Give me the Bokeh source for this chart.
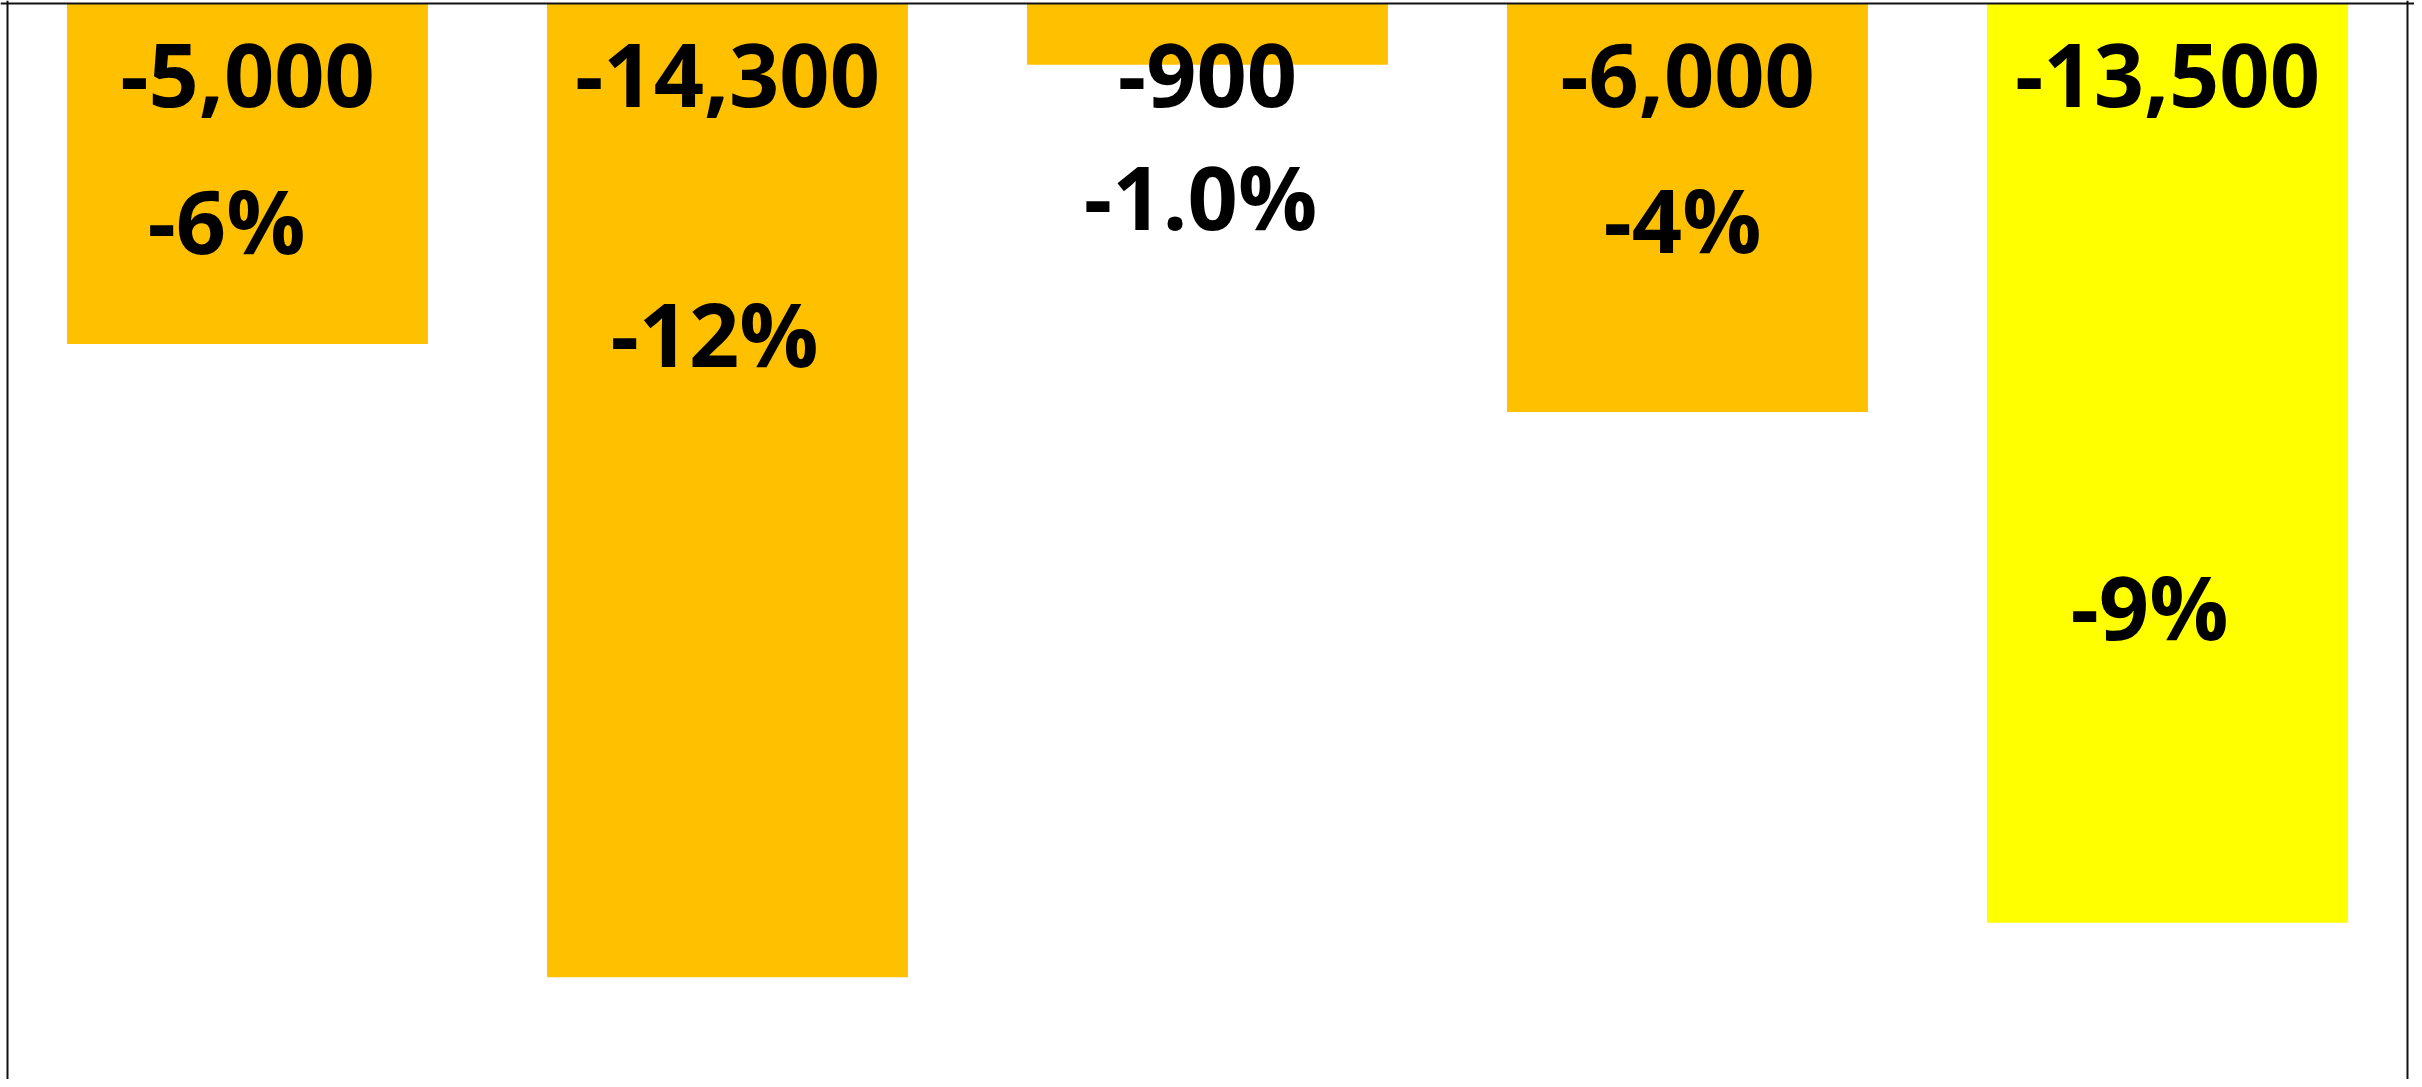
from bokeh.plotting import figure
from bokeh.models import ColumnDataSource, FactorRange, Range1d, Span
from bokeh.core.properties import value
from bokeh.embed import file_html
from bokeh.resources import INLINE

# ---- data ----
categories = ["1", "2", "3", "4", "5"]
values = [-5000, -14300, -900, -6000, -13500]
value_labels = ["-5,000", "-14,300", "-900", "-6,000", "-13,500"]
pct_labels = ["-6%", "-12%", "-1.0%", "-4%", "-9%"]
bar_colors = ["#FFC000", "#FFC000", "#FFC000", "#FFC000", "#FFFF00"]

# label placement (data units on the y axis / pixel nudges)
value_label_y = [-1542] * 5
pct_label_y = [-3670, -5316, -3304, -3656, -9325]
pct_label_dx = [-21, -13, -7, -5, -18]

src = ColumnDataSource(dict(
    cat=categories, val=values, color=bar_colors,
    vlab=value_labels, vy=value_label_y,
    plab=pct_labels, py=pct_label_y, pdx=pct_label_dx,
))

p = figure(
    x_range=FactorRange(*categories, range_padding=0.0146, range_padding_units="absolute"),
    y_range=Range1d(-15800, 44),
    width=2414, height=1079,
    output_backend="svg", toolbar_location=None,
    min_border_left=0, min_border_right=0, min_border_top=0, min_border_bottom=0,
)
p.axis.visible = False
p.xgrid.visible = False
p.ygrid.visible = False
p.outline_line_color = None
p.background_fill_color = "white"
p.border_fill_color = "white"

p.vbar(x="cat", top=0, bottom="val", width=0.752, fill_color="color",
       line_color=None, source=src)

font = value("Open Sans")
p.text(x="cat", y="vy", text="vlab", source=src, y_offset=-33,
       text_font=font, text_font_style="bold", text_font_size="88px",
       text_color="black", text_align="center", text_baseline="alphabetic")
p.text(x="cat", y="py", text="plab", source=src, x_offset="pdx", y_offset=-33,
       text_font=font, text_font_style="bold", text_font_size="88px",
       text_color="black", text_align="center", text_baseline="alphabetic")

for loc, dim in [(0, "height"), (5, "height"), (0, "width")]:
    p.add_layout(Span(location=loc, dimension=dim, line_color="#111111", line_width=2))

open("out.html", "w").write(file_html(p, INLINE))
